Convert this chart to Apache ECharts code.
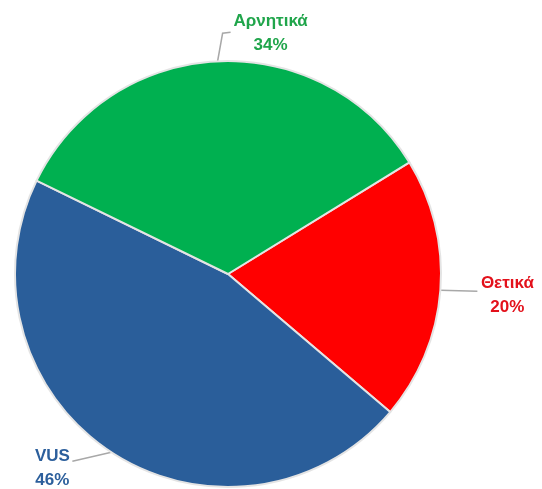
<!DOCTYPE html>
<html>
<head>
<meta charset="utf-8">
<script src="https://cdn.jsdelivr.net/npm/echarts@6/dist/echarts.min.js"></script>
<style>
  html, body { margin: 0; padding: 0; background: #ffffff; }
  #chart { width: 542px; height: 489px; }
</style>
</head>
<body>
<div id="chart"></div>
<script>
// Result categories, share in percent, slice and label colours
const categories = ['Θετικά', 'VUS', 'Αρνητικά'];
const shares = [20, 46, 34];
const sliceColors = ['#ff0000', '#2a5e9a', '#00b050'];
const labelColors = ['#e3111b', '#2c5f9c', '#20a54b'];

// Leader-line shape per label, relative to the slice edge point:
// bend offsets for the line, then the label centre relative to the line end
const leaderBends = {
  'Θετικά':   { line: [[37, 1]],          text: [30, 4] },
  'VUS':      { line: [[-39, 9]],         text: [-20, 7] },
  'Αρνητικά': { line: [[5, -28], [8, -1]], text: [40, 1] }
};

const chart = echarts.init(document.getElementById('chart'), null, { renderer: 'canvas' });

const data = categories.map((name, i) => ({
  name: name,
  value: shares[i],
  itemStyle: { color: sliceColors[i] },
  label: { color: labelColors[i] }
}));

chart.setOption({
  animation: false,
  backgroundColor: '#ffffff',
  series: [{
    type: 'pie',
    center: [228, 274],
    radius: [0, 213],
    startAngle: 31.6,
    clockwise: true,
    avoidLabelOverlap: false,
    data: data,
    itemStyle: { borderColor: '#e4e4e4', borderWidth: 2 },
    label: {
      show: true,
      position: 'outside',
      formatter: (p) => '{t|' + p.name + '}\n{t|' + p.value + '%}',
      rich: {
        t: {
          fontFamily: 'Liberation Sans, Arial, sans-serif',
          fontWeight: 'bold',
          fontSize: 17,
          lineHeight: 24,
          width: 84,
          align: 'center'
        }
      }
    },
    labelLine: {
      show: true,
      length: 4,
      length2: 30,
      lineStyle: { color: '#a8a8a8', width: 1.5 }
    },
    labelLayout: function (params) {
      const spec = leaderBends[categories[params.dataIndex]];
      const p0 = params.labelLinePoints[0];
      const pts = [p0];
      let cur = p0;
      spec.line.forEach((d) => {
        cur = [cur[0] + d[0], cur[1] + d[1]];
        pts.push(cur);
      });
      return {
        x: cur[0] + spec.text[0],
        y: cur[1] + spec.text[1],
        align: 'center',
        verticalAlign: 'middle',
        labelLinePoints: pts
      };
    }
  }]
});
</script>
</body>
</html>
